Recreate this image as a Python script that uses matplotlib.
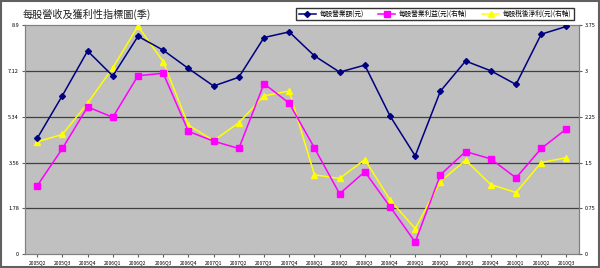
import matplotlib
matplotlib.use("Agg")
import matplotlib.pyplot as plt
from matplotlib.patches import Rectangle

plt.rcParams['font.family'] = ['Noto Sans CJK TC', 'DejaVu Sans']

# 季別
quarters = ['2005Q2', '2005Q3', '2005Q4', '2006Q1', '2006Q2', '2006Q3', '2006Q4',
            '2007Q1', '2007Q2', '2007Q3', '2007Q4', '2008Q1', '2008Q2', '2008Q3',
            '2008Q4', '2009Q1', '2009Q2', '2009Q3', '2009Q4', '2010Q1', '2010Q2',
            '2010Q3']

# 每股營業額(元) - 左軸
revenue = [4.50, 6.16, 7.89, 6.92, 8.46, 7.92, 7.21, 6.53, 6.87, 8.41, 8.63,
           7.70, 7.07, 7.34, 5.37, 3.82, 6.33, 7.50, 7.12, 6.59, 8.54, 8.84]

# 每股營業利益(元) - 右軸
op_profit = [1.12, 1.73, 2.41, 2.24, 2.92, 2.96, 2.01, 1.85, 1.73, 2.79, 2.47,
             1.74, 0.99, 1.35, 0.78, 0.20, 1.30, 1.68, 1.56, 1.25, 1.73, 2.05]

# 每股稅後淨利(元) - 右軸
net_profit = [1.84, 1.96, 2.47, 3.05, 3.73, 3.15, 2.11, 1.86, 2.15, 2.59, 2.67,
              1.30, 1.24, 1.55, 0.89, 0.42, 1.19, 1.54, 1.14, 1.01, 1.50, 1.58]

left_ticks = [0, 1.78, 3.56, 5.34, 7.12, 8.9]
left_labels = ['0', '1.78', '3.56', '5.34', '7.12', '8.9']
right_ticks = [0, 0.75, 1.5, 2.25, 3, 3.75]
right_labels = ['0', '0.75', '1.5', '2.25', '3', '3.75']

fig = plt.figure(figsize=(6, 2.68), dpi=100)
fig.patch.set_facecolor('white')

# 左軸 (灰底 + 格線)
ax = fig.add_axes([0.041, 0.051, 0.924, 0.856])
ax.set_facecolor('#C0C0C0')
for y in left_ticks[1:-1]:
    ax.axhline(y, color='#404040', lw=0.9, zorder=1)

# 右軸
ax2 = ax.twinx()
l3, = ax2.plot(range(len(quarters)), net_profit, color='#FFFF00', marker='^',
               ms=4, lw=1.1, label='每股稅後淨利(元)(右軸)', zorder=3)
l2, = ax2.plot(range(len(quarters)), op_profit, color='#FF00FF', marker='s',
               ms=4, lw=1.1, label='每股營業利益(元)(右軸)', zorder=4)

# 營業額畫在最上層 (同左軸刻度)
ax3 = ax.twinx()
ax3.axis('off')
l1, = ax3.plot(range(len(quarters)), revenue, color='#000080', marker='D',
               ms=3, lw=1.1, label='每股營業額(元)')

ax.set_xlim(-0.5, len(quarters) - 0.5)
ax.set_ylim(0, 8.9)
ax3.set_ylim(0, 8.9)
ax2.set_ylim(0, 3.75)
ax.set_yticks(left_ticks)
ax.set_yticklabels(left_labels)
ax2.set_yticks(right_ticks)
ax2.set_yticklabels(right_labels)
ax.set_xticks(range(len(quarters)))
ax.set_xticklabels(quarters)
ax.tick_params(axis='x', labelsize=3.6, length=2, pad=2, color='#606060')
ax.tick_params(axis='y', labelsize=4, length=2, pad=2, color='#606060')
ax2.tick_params(axis='y', labelsize=4, length=2, pad=2, color='#606060')
for a in (ax, ax2):
    for s in a.spines.values():
        s.set_color('#808080')
        s.set_linewidth(0.8)

fig.text(0.038, 0.945, '每股營收及獲利性指標圖(季)', fontsize=7.3, ha='left',
         va='center', color='#202020')

fig.legend(handles=[l1, l2, l3], ncol=3, loc='center',
           bbox_to_anchor=(0.725, 0.948), fontsize=4.8, frameon=True,
           fancybox=False, edgecolor='black', handlelength=2.6,
           columnspacing=2.2, borderpad=0.35, handletextpad=0.5)

fig.patches.append(Rectangle((0.002, 0.004), 0.996, 0.992, transform=fig.transFigure,
                             fill=False, edgecolor='#606060', lw=1.5))

fig.savefig('out.png', dpi=100)
